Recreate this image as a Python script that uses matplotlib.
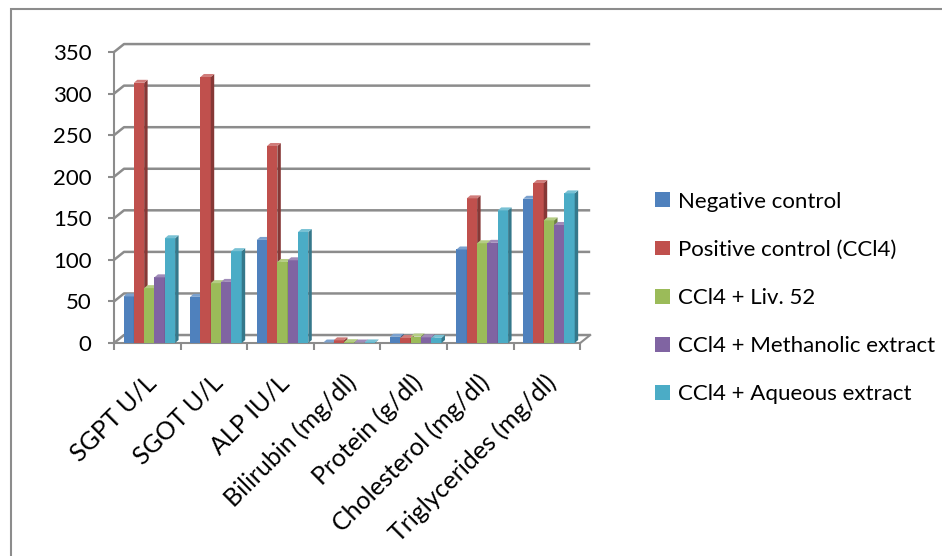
import numpy as np
import matplotlib.pyplot as plt
from matplotlib.patches import Polygon, Patch, Rectangle
from matplotlib.transforms import ScaledTranslation
from matplotlib.colors import to_rgb

plt.rcParams['font.family'] = ['Lato', 'DejaVu Sans']

# liver function parameters
categories = ['SGPT U/L', 'SGOT U/L', 'ALP IU/L', 'Bilirubin (mg/dl)',
              'Protein (g/dl)', 'Cholesterol (mg/dl)', 'Triglycerides (mg/dl)']

negative_control = [56, 55.5, 124, 0.6, 7.5, 112.5, 173.5]
positive_control = [313, 320, 237, 3.2, 6.0, 174, 192.5]
liv52 = [66, 72, 97.5, 1.0, 7.8, 120, 147.5]
methanolic = [79, 73.5, 99.5, 0.6, 6.8, 120.5, 142]
aqueous = [126, 110.5, 133.5, 0.7, 6.2, 159.5, 180]

series_names = ['Negative control', 'Positive control (CCl4)', 'CCl4 + Liv. 52',
                'CCl4 + Methanolic extract', 'CCl4 + Aqueous extract']
series_values = [negative_control, positive_control, liv52, methanolic, aqueous]
colors = ['#4F81BD', '#C0504D', '#9BBB59', '#8064A2', '#4BACC6']

yticks = [0, 50, 100, 150, 200, 250, 300, 350]

grey = '#8c8c8c'
wall_dx, wall_dy = 0.15, 9.6      # depth offset of the back wall
bar_dx, bar_dy = 0.052, 3.6       # depth offset of each column
bar_w = 0.155

fig = plt.figure(figsize=(9.42, 5.56), dpi=100)
ax = fig.add_axes([0.1175, 0.3756, 0.5161, 0.5607])
ax.set_xlim(-0.55, 6.75)
ax.set_ylim(-5, 370)

# back wall gridlines and floor
n = len(categories)
for v in yticks:
    ax.plot([-0.5, -0.5 + wall_dx, n - 0.5 + wall_dx], [v, v + wall_dy, v + wall_dy],
            color=grey, lw=1.8, zorder=1, solid_capstyle='butt')
ax.plot([n - 0.5, n - 0.5 + wall_dx], [0, wall_dy], color=grey, lw=1.5, zorder=1)


def shade(c, f):
    r = np.array(to_rgb(c))
    return tuple(r * f) if f < 1 else tuple(r + (1 - r) * (f - 1))


x = np.arange(n)
for j, (vals, col) in enumerate(zip(series_values, colors)):
    xs = x + (j - 2) * bar_w + 0.03
    z = 2 + j
    ax.bar(xs, vals, width=bar_w, color=col, zorder=z, linewidth=0)
    for xc, h in zip(xs, vals):
        x0, x1 = xc - bar_w / 2, xc + bar_w / 2
        side = Polygon([(x1, 0), (x1 + bar_dx, bar_dy), (x1 + bar_dx, h + bar_dy), (x1, h)],
                       closed=True, facecolor=shade(col, 0.7), lw=0, zorder=z)
        top = Polygon([(x0, h), (x1, h), (x1 + bar_dx, h + bar_dy), (x0 + bar_dx, h + bar_dy)],
                      closed=True, facecolor=shade(col, 1.25), lw=0, zorder=z)
        ax.add_patch(side)
        ax.add_patch(top)

# axes
for s in ['top', 'right']:
    ax.spines[s].set_visible(False)
ax.spines['left'].set_position(('data', -0.5))
ax.spines['left'].set_bounds(0, 350)
ax.spines['bottom'].set_position(('data', 0))
ax.spines['bottom'].set_bounds(-0.5, n - 0.5)
for s in ['left', 'bottom']:
    ax.spines[s].set_color(grey)
    ax.spines[s].set_linewidth(1.5)
    ax.spines[s].set_zorder(1.5)

ax.set_yticks(yticks)
ax.tick_params(axis='y', length=4.3, width=1.5, color=grey, labelsize=16, pad=12)

ax.set_xticks(x)
ax.set_xticks(np.arange(-0.5, n), minor=True)
ax.tick_params(axis='x', which='minor', length=5, width=1.5, color=grey)
ax.tick_params(axis='x', which='major', length=0, pad=20)
ax.set_xticklabels(categories, rotation=45, ha='right', va='top',
                   rotation_mode='anchor', fontsize=18)
shift = ScaledTranslation(-0.03, 0, fig.dpi_scale_trans)
for lbl in ax.get_xticklabels():
    lbl.set_transform(lbl.get_transform() + shift)

handles = [Patch(facecolor=c, edgecolor='none') for c in colors]
fig.legend(handles, series_names, loc='center left', bbox_to_anchor=(0.6837, 0.464),
           frameon=False, fontsize=16, borderpad=0, handlelength=0.65, handleheight=0.65,
           handletextpad=0.4, labelspacing=1.27)

# chart area border
fig.add_artist(Rectangle((11 / 942, -0.1), 2, 0.9838 + 0.1, transform=fig.transFigure,
                         fill=False, edgecolor=grey, lw=1.5))

plt.savefig('out.png', dpi=100)
